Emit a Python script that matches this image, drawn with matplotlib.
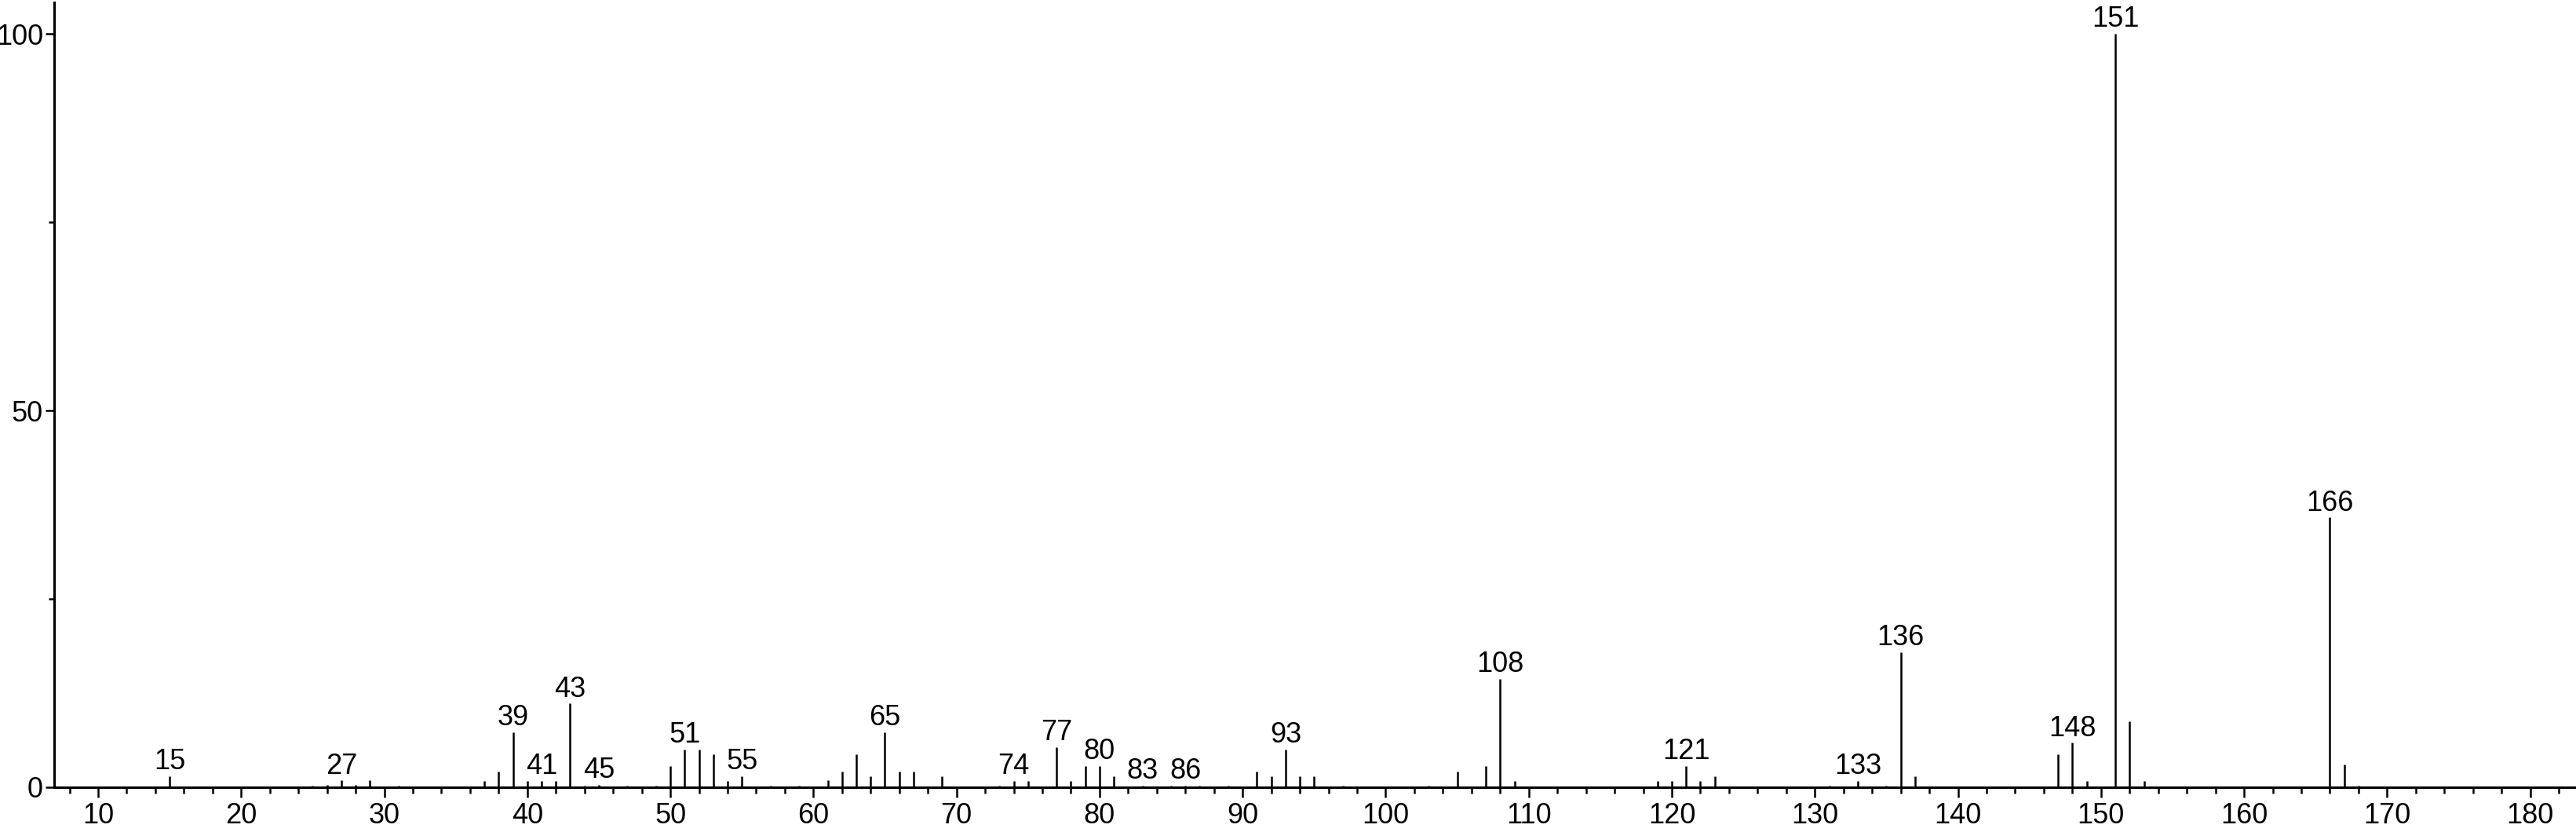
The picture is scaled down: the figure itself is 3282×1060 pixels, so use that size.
import matplotlib
matplotlib.use("Agg")
import matplotlib.pyplot as plt
from matplotlib.ticker import MultipleLocator, FixedLocator

plt.rcParams['font.family'] = ['Liberation Sans Narrow', 'Liberation Sans', 'DejaVu Sans']

mz = [15, 25, 26, 27, 28, 29, 31, 37, 38, 39, 40, 41, 42, 43, 44, 45, 47, 49,
      50, 51, 52, 53, 54, 55, 57, 59, 61, 62, 63, 64, 65, 66, 67, 69, 73, 74,
      75, 77, 78, 79, 80, 81, 83, 85, 86, 87, 89, 91, 92, 93, 94, 95, 97, 103,
      105, 107, 108, 109, 119, 120, 121, 122, 123, 131, 133, 135, 136, 137,
      147, 148, 149, 151, 152, 153, 166, 167, 168]
intensity = [1.5, 0.2, 0.3, 0.9, 0.3, 0.9, 0.2, 0.85, 2.1, 7.3, 0.85, 0.85, 0.85, 11.1, 0.2, 0.3, 0.2, 0.2,
             2.8, 5.0, 5.0, 4.4, 0.85, 1.45, 0.2, 0.2, 0.9, 2.1, 4.4, 1.45, 7.3, 2.1, 2.1, 1.45, 0.2, 0.87,
             0.87, 5.3, 0.87, 2.8, 2.8, 1.46, 0.2, 0.2, 0.2, 0.2, 0.2, 2.1, 1.46, 5.0, 1.46, 1.46, 0.2, 0.2,
             2.1, 2.8, 14.4, 0.87, 0.87, 0.87, 2.8, 0.87, 1.46, 0.2, 0.87, 0.2, 17.9, 1.46,
             4.4, 5.9, 0.87, 100.0, 8.8, 0.87, 35.8, 3.0, 0.2]
labeled = [15, 27, 39, 41, 43, 45, 51, 55, 65, 74, 77, 80, 83, 86, 93, 108, 121,
           133, 136, 148, 151, 166]

W, H = 3282, 1060
fig = plt.figure(figsize=(W / 100, H / 100), dpi=100)
ax = fig.add_axes([69 / W, (H - 1003) / H, 1 - 69 / W, (1003 - 3) / H])

ax.vlines(mz, 0, intensity, colors='black', linewidth=1.8)

for m, v in zip(mz, intensity):
    if m in labeled:
        ax.annotate(str(m), (m, v), xytext=(0, 0.5), textcoords='offset points',
                    ha='center', va='bottom', fontsize=26, clip_on=False)

ax.set_xlim(6.93, 183.2)
ax.set_ylim(0, 104.17)

for s in ['top', 'right']:
    ax.spines[s].set_visible(False)
for s in ['left', 'bottom']:
    ax.spines[s].set_linewidth(2.2)

ax.xaxis.set_major_locator(MultipleLocator(10))
ax.xaxis.set_minor_locator(MultipleLocator(2))
ax.yaxis.set_major_locator(FixedLocator([0, 50, 100]))
ax.yaxis.set_minor_locator(FixedLocator([25, 75]))

ax.tick_params(axis='x', which='major', direction='out', length=9.5, width=1.8,
               labelsize=26, pad=4)
ax.tick_params(axis='x', which='minor', direction='out', length=5.5, width=1.8)
ax.tick_params(axis='y', which='major', direction='out', length=8, width=1.8,
               labelsize=26, pad=2)
ax.tick_params(axis='y', which='minor', direction='out', length=5, width=1.8)

fig.savefig('out.png', dpi=100)
